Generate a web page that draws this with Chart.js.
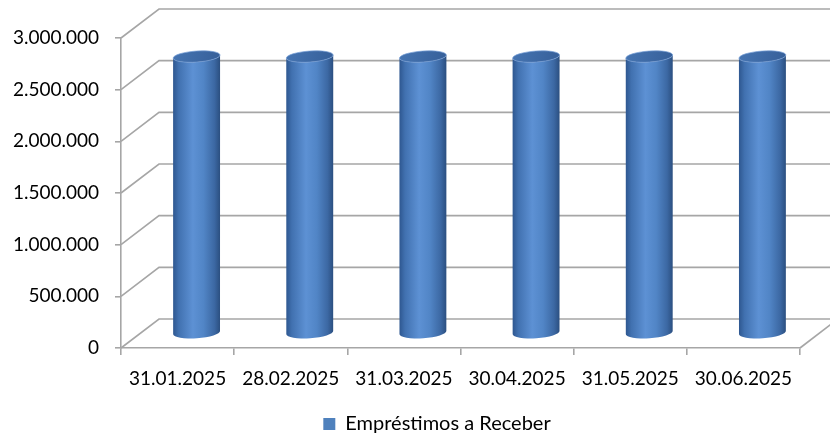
<!DOCTYPE html>
<html>
<head>
<meta charset="utf-8">
<script src="https://cdn.jsdelivr.net/npm/chart.js@4.4.1/dist/chart.umd.min.js"></script>
<style>
html,body{margin:0;padding:0;background:#fff;}
#wrap{width:830px;height:439px;position:relative;}
</style>
</head>
<body>
<div id="wrap"><canvas id="c" width="830" height="439"></canvas></div>
<script>
const categories = ['31.01.2025','28.02.2025','31.03.2025','30.04.2025','31.05.2025','30.06.2025'];
const seriesName = 'Empréstimos a Receber';
const values = [2680000, 2680000, 2680000, 2680000, 2680000, 2680000];
const yTicks = [0, 500000, 1000000, 1500000, 2000000, 2500000, 3000000];

const DX = 38, DY = -29;
const GRID = '#a6a6a6';
const FONT = 'Lato';

function fmt(v){ return Math.round(v).toString().replace(/\B(?=(\d{3})+(?!\d))/g, '.'); }

const threeD = {
  id: 'threeD',
  afterLayout(chart){
    const lg = chart.legend;
    if (lg) { lg.left += 37; lg.right += 37; lg.top += 5; lg.bottom += 5; }
  },
  beforeDatasetsDraw(chart){
    const ctx = chart.ctx, ys = chart.scales.y, a = chart.chartArea;
    ctx.save();
    ctx.strokeStyle = GRID; ctx.lineWidth = 1.6; ctx.lineCap = 'butt';
    yTicks.forEach(v => {
      const y = ys.getPixelForValue(v);
      ctx.beginPath();
      ctx.moveTo(a.left, y);
      ctx.lineTo(a.left + DX, y + DY);
      ctx.lineTo(chart.width, y + DY);
      ctx.stroke();
    });
    ctx.beginPath();
    ctx.moveTo(a.right, a.bottom);
    ctx.lineTo(a.right + DX, a.bottom + DY);
    ctx.stroke();
    ctx.restore();
  },
  afterDatasetsDraw(chart){
    const ctx = chart.ctx;
    const meta = chart.getDatasetMeta(0);
    meta.data.forEach(bar => {
      const p = bar.getProps(['x','y','base','width'], true);
      const cx = p.x + DX/2;
      const rx = p.width/2;
      const ry = 5.5;
      const rot = -0.07;
      const topY = p.y + DY/2;
      const botY = p.base + DY/2;
      const L = cx - rx, R = cx + rx;
      ctx.save();
      const g = ctx.createLinearGradient(L, 0, R, 0);
      g.addColorStop(0, '#2e5790');
      g.addColorStop(0.12, '#4171b0');
      g.addColorStop(0.42, '#5d91d4');
      g.addColorStop(0.65, '#5185c6');
      g.addColorStop(0.88, '#3c68a3');
      g.addColorStop(1, '#2b4f80');
      ctx.beginPath();
      ctx.moveTo(L, topY + rx*Math.sin(-rot));
      ctx.ellipse(cx, botY, rx, ry, rot, Math.PI, 0, true);
      ctx.lineTo(R, topY - rx*Math.sin(-rot));
      ctx.ellipse(cx, topY, rx, ry, rot, 0, Math.PI, false);
      ctx.closePath();
      ctx.fillStyle = g;
      ctx.fill();
      const tg = ctx.createLinearGradient(L, topY - ry, R, topY + ry);
      tg.addColorStop(0, '#4675b2');
      tg.addColorStop(1, '#365f99');
      ctx.beginPath();
      ctx.ellipse(cx, topY, rx, ry, rot, 0, Math.PI*2);
      ctx.fillStyle = tg;
      ctx.fill();
      ctx.strokeStyle = 'rgba(120,160,215,0.7)';
      ctx.lineWidth = 1;
      ctx.stroke();
      ctx.restore();
    });
  }
};

new Chart(document.getElementById('c'), {
  type: 'bar',
  data: {
    labels: categories,
    datasets: [{
      label: seriesName,
      data: values,
      backgroundColor: 'rgba(0,0,0,0)',
      borderWidth: 0,
      barPercentage: 0.415,
      categoryPercentage: 1.0
    }]
  },
  options: {
    responsive: false,
    animation: false,
    events: [],
    layout: { padding: { left: 0, top: 38, right: 30, bottom: 0 } },
    plugins: {
      legend: {
        position: 'bottom',
        labels: {
          boxWidth: 12, boxHeight: 12, padding: 10,
          color: '#000',
          font: { family: FONT, size: 20 },
          generateLabels(chart){
            return [{ text: seriesName, fillStyle: '#4f81bd', strokeStyle: '#4f81bd', lineWidth: 0, datasetIndex: 0 }];
          }
        }
      },
      tooltip: { enabled: false }
    },
    scales: {
      x: {
        afterFit(s){ s.height = 51; },
        grid: { display: true, drawOnChartArea: false, drawTicks: true, tickLength: 7, color: GRID, lineWidth: 1.6, offset: true },
        border: { display: true, color: GRID, width: 1.6 },
        ticks: { color: '#000', font: { family: FONT, size: 19 }, padding: 12, maxRotation: 0, autoSkip: false }
      },
      y: {
        min: 0, max: 3000000,
        afterFit(s){ s.width = 121; },
        afterBuildTicks(s){ s.ticks = yTicks.map(v => ({ value: v })); },
        grid: { display: true, drawOnChartArea: false, drawTicks: true, tickLength: 6, color: GRID, lineWidth: 1.6 },
        border: { display: true, color: GRID, width: 1.6 },
        ticks: { color: '#000', font: { family: FONT, size: 19 }, padding: 16, callback: v => fmt(v) }
      }
    }
  },
  plugins: [threeD]
});
</script>
</body>
</html>
